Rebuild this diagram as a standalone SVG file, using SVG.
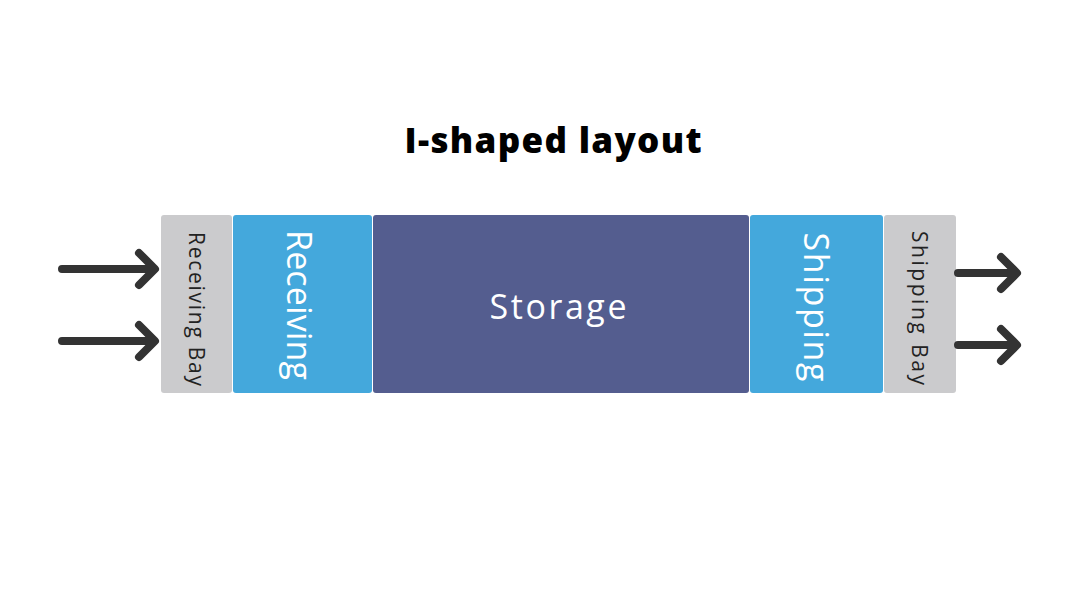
<svg xmlns="http://www.w3.org/2000/svg" width="1080" height="607" viewBox="0 0 1080 607">
<defs>
<style>
.bay{fill:#cbcbcd}
.zone{fill:#44a8dc}
.store{fill:#545d8f}
.arrow{fill:none;stroke:#333333;stroke-width:8;stroke-linecap:round;stroke-linejoin:round}
.t{font-family:"Open Sans","Liberation Sans",sans-serif;text-anchor:middle;dominant-baseline:central}
.small{font-size:21px;fill:#222222}
.big{font-size:34px;fill:#ffffff}
.title{font-family:"Open Sans","Liberation Sans",sans-serif;font-weight:800;font-size:35px;fill:#000000;text-anchor:middle}
</style>
</defs>
<rect width="1080" height="607" fill="#ffffff"/>
<text class="title" x="553" y="153" textLength="297">I-shaped layout</text>
<g id="receiving-bay">
<rect class="bay" x="161" y="215" width="71" height="178" rx="3"/>
<text class="t small" transform="translate(197,309) rotate(90)" textLength="154">Receiving Bay</text>
</g>
<g id="receiving">
<rect class="zone" x="233" y="215" width="139" height="178" rx="3"/>
<text class="t big" transform="translate(300,305) rotate(90)" textLength="150">Receiving</text>
</g>
<g id="storage">
<rect class="store" x="373" y="215" width="376" height="178" rx="3"/>
<text class="t big" x="558" y="306" textLength="137">Storage</text>
</g>
<g id="shipping">
<rect class="zone" x="750" y="215" width="133" height="178" rx="3"/>
<text class="t big" transform="translate(817,307) rotate(90)" textLength="149">Shipping</text>
</g>
<g id="shipping-bay">
<rect class="bay" x="884" y="215" width="72" height="178" rx="3"/>
<text class="t small" transform="translate(920,308) rotate(90)" textLength="154">Shipping Bay</text>
</g>
<g id="connectors">
<path class="arrow" d="M62 269 H154 M139 253 L155 269 L139 285"/>
<path class="arrow" d="M62 341 H154 M139 325 L155 341 L139 357"/>
<path class="arrow" d="M958 273 H1016 M1001 257 L1017 273 L1001 289"/>
<path class="arrow" d="M958 345 H1016 M1001 329 L1017 345 L1001 361"/>
</g>
</svg>
